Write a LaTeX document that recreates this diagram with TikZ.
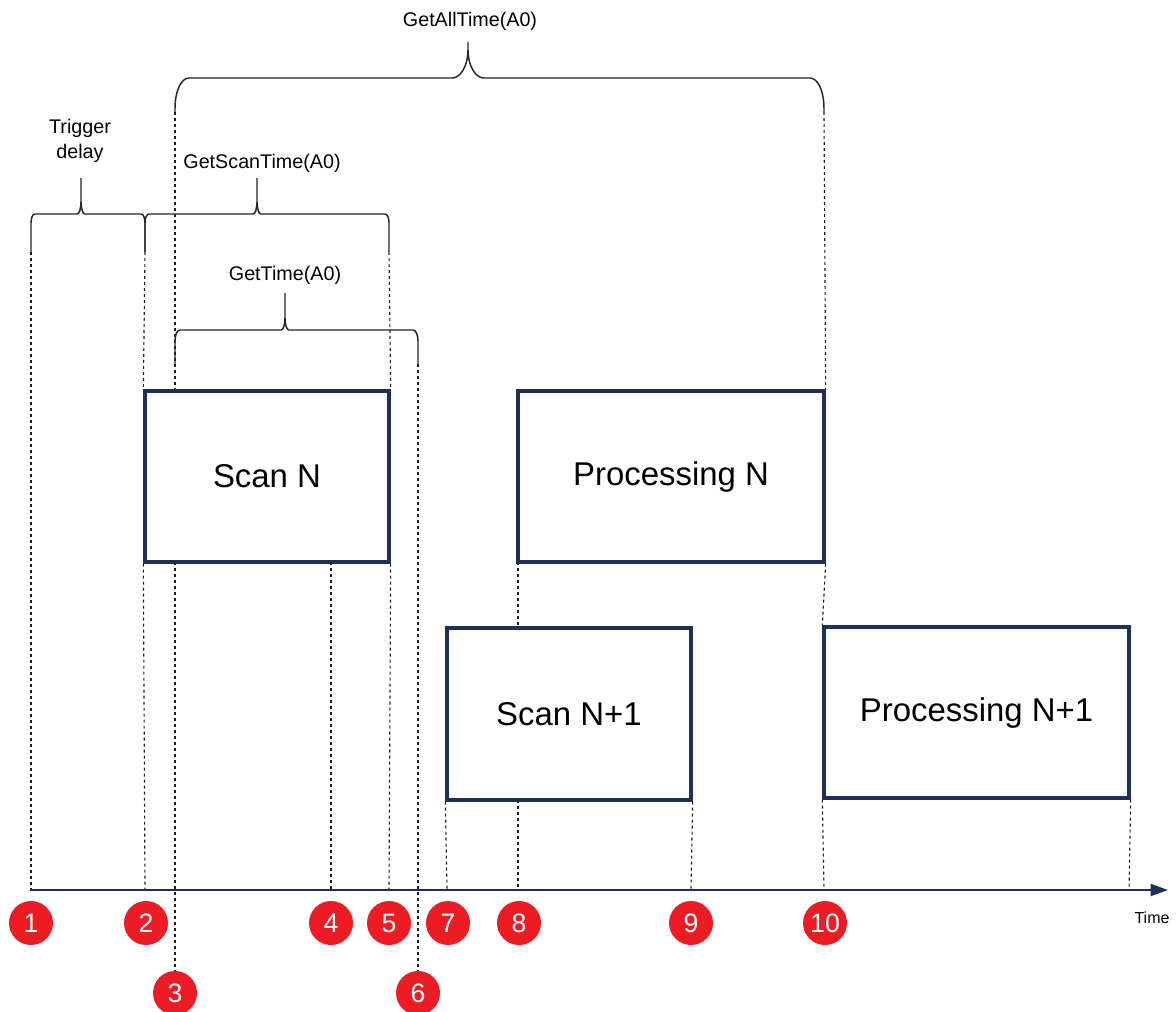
\documentclass[tikz,border=0pt]{standalone}
\usepackage{fontspec}
\setmainfont{Liberation Sans}
\usetikzlibrary{arrows.meta}
\definecolor{navy}{RGB}{30,48,88}
\definecolor{mred}{RGB}{237,28,36}
\definecolor{dgray}{RGB}{30,30,30}
% #1 x1, #2 x2, #3 y ends, #4 y horizontal, #5 x tip, #6 y tip, #7 end width, #8 tip width, #9 tip curve height
\newcommand\curlyb[9]{%
  \draw[brc] (#1,#3) -- (#1,#4+2.2*#7)
    .. controls (#1,#4+0.9*#7) and (#1+0.45*#7,#4) .. (#1+#7,#4)
    -- (#5-#8,#4)
    .. controls (#5-0.45*#8,#4) and (#5,#4-0.45*#9) .. (#5,#4-#9)
    -- (#5,#6) -- (#5,#4-#9)
    .. controls (#5,#4-0.45*#9) and (#5+0.45*#8,#4) .. (#5+#8,#4)
    -- (#2-#7,#4)
    .. controls (#2-0.45*#7,#4) and (#2,#4+0.9*#7) .. (#2,#4+2.2*#7)
    -- (#2,#3);}
\begin{document}
\begin{tikzpicture}[x=0.75pt,y=-0.75pt,
  box/.style={draw=navy, line width=2.5pt, fill=white, inner sep=0pt,
    font=\fontsize{24.7}{28}\selectfont},
  num/.style={circle, fill=mred, text=white, minimum size=33pt, inner sep=0pt,
    font=\fontsize{20}{20}\selectfont},
  lbl/.style={font=\fontsize{14.8}{18.8}\selectfont, align=center, inner sep=0pt},
  dline/.style={draw=dgray, line width=0.85pt, dash pattern=on 2.25pt off 2.25pt},
  brc/.style={draw=black!85, line width=1.1pt},
  axis/.style={draw=navy, line width=1.6pt, -{Triangle[length=13pt,width=9pt]}}]
\useasboundingbox (0,0) rectangle (1176,1012);

% boxes
\node[box, minimum width=183pt, minimum height=128.25pt] (scanN) at (267,476.5) {Scan N};
\node[box, minimum width=229.5pt, minimum height=128.25pt] (procN) at (671,476.5) {Processing N};
\node[box, minimum width=183pt, minimum height=129pt] (scanN1) at (569,714) {Scan N+1};
\node[box, minimum width=228.75pt, minimum height=128.25pt] (procN1) at (976.5,712.5) {Processing N+1};

% axis coordinates
\coordinate (t0) at (30,890);
\coordinate (tend) at (1168,890);
\coordinate (a1) at (31,890);
\coordinate (a2) at (145,890);
\coordinate (a4) at (331,890);
\coordinate (a5) at (389,890);
\coordinate (a7) at (447,890);
\coordinate (a8) at (518,890);
\coordinate (a9) at (691,890);
\coordinate (a10) at (824,890);
\coordinate (a11) at (1129,890);

% brace end coordinates
\coordinate (tdL) at (31,252);
\coordinate (tdR) at (145,252);
\coordinate (scR) at (389,252);
\coordinate (allL) at (175,112);
\coordinate (allR) at (824,112);
\coordinate (gtR) at (418,364);
\coordinate (s3t) at (175,391);
\coordinate (s3b) at (175,562);
\coordinate (s4b) at (331,562);
\coordinate (p8b) at (518,562);
\coordinate (s8t) at (518,628);
\coordinate (s8b) at (518,800);

% circles
\node[num] (c1) at (31,923) {1};
\node[num] (c2) at (146,923) {2};
\node[num] (c3) at (175,993) {3};
\node[num] (c4) at (331,923) {4};
\node[num] (c5) at (389,923) {5};
\node[num] (c6) at (418,993) {6};
\node[num] (c7) at (448,923) {7};
\node[num] (c8) at (519,923) {8};
\node[num] (c9) at (691,923) {9};
\node[num] (c10) at (825,923) {10};

% dashed lines
\draw[dline] (tdL) -- (a1);
\draw[dline] (tdR) -- (scanN.north west);
\draw[dline] (scanN.south west) -- (a2);
\draw[dline] (allL) -- (s3t);
\draw[dline] (s3b) -- (c3.north);
\draw[dline] (s4b) -- (a4);
\draw[dline] (scR) -- (scanN.north east);
\draw[dline] (scanN.south east) -- (a5);
\draw[dline] (gtR) -- (c6.north);
\draw[dline] (scanN1.south west) -- (a7);
\draw[dline] (p8b) -- (s8t);
\draw[dline] (s8b) -- (a8);
\draw[dline] (scanN1.south east) -- (a9);
\draw[dline] (allR) -- (procN.north east);
\draw[dline] (procN.south east) -- (procN1.north west);
\draw[dline] (procN1.south west) -- (a10);
\draw[dline] (procN1.south east) -- (a11);

% axis
\draw[axis] (t0) -- (tend);
\node[font=\fontsize{12}{12}\selectfont] (timel) at (1152,918) {Time};

% braces
\curlyb{31}{145}{252}{214}{81}{178}{4}{4}{12}
\curlyb{145}{389}{252}{214}{257}{178}{4}{4}{12}
\curlyb{175}{418}{364}{330}{285}{293}{5}{4}{12}
\curlyb{175}{824}{112}{78}{468}{42}{14}{16}{28}

% labels
\node[lbl] (ltd) at (80,141) {Trigger\\delay};
\node[lbl] (lscan) at (262,163) {GetScanTime(A0)};
\node[lbl] (lget) at (285,275) {GetTime(A0)};
\node[lbl] (lall) at (470,21) {GetAllTime(A0)};
\end{tikzpicture}
\end{document}
